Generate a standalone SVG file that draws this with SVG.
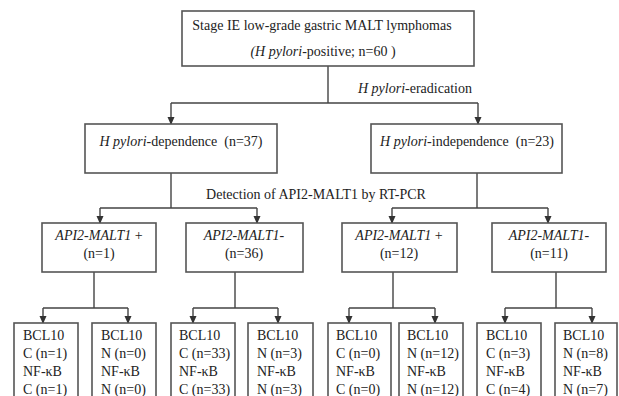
<svg xmlns="http://www.w3.org/2000/svg" width="619" height="396" viewBox="0 0 619 396" font-family="'Liberation Serif','Times New Roman',serif">
<defs>
<marker id="ah" viewBox="0 0 8 8" refX="7" refY="4" markerWidth="8" markerHeight="8" markerUnits="userSpaceOnUse" orient="auto">
<path d="M0,0.5 L8,4 L0,7.5 Z" fill="#333"/>
</marker>
<style>
.box{fill:#fff;stroke:#555;stroke-width:1.6}
.ln{fill:none;stroke:#444;stroke-width:1.4}
.ar{fill:none;stroke:#444;stroke-width:1.4;marker-end:url(#ah)}
text{font-family:"Liberation Serif","Times New Roman",serif;font-size:14px;fill:#222}
.c{text-anchor:middle}
.i{font-style:italic}
</style>
</defs>
<rect width="619" height="396" fill="#fff"/>
<g id="connectors">
<path class="ln" d="M328,66 V103 M171,103 H478"/>
<path class="ar" d="M171,103 V124"/>
<path class="ar" d="M478,103 V124"/>
<path class="ln" d="M171,173 V208 M100,208 H257"/>
<path class="ar" d="M100,208 V223"/>
<path class="ar" d="M257,208 V223"/>
<path class="ln" d="M477,173 V208 M392,208 H548"/>
<path class="ar" d="M392,208 V223"/>
<path class="ar" d="M548,208 V223"/>
<path class="ln" d="M94,272 V308 M43,308 H128"/>
<path class="ar" d="M43,308 V323"/>
<path class="ar" d="M128,308 V323"/>
<path class="ln" d="M235,272 V308 M193,308 H278"/>
<path class="ar" d="M193,308 V323"/>
<path class="ar" d="M278,308 V323"/>
<path class="ln" d="M393,272 V308 M349,308 H435"/>
<path class="ar" d="M349,308 V323"/>
<path class="ar" d="M435,308 V323"/>
<path class="ln" d="M556,272 V308 M505,308 H592"/>
<path class="ar" d="M505,308 V323"/>
<path class="ar" d="M592,308 V323"/>
</g>
<text x="358" y="93"><tspan class="i">H pylori</tspan>-eradication</text>
<text x="316" y="199" class="c">Detection of API2-MALT1 by RT-PCR</text>
<g id="top">
<rect class="box" x="182" y="11" width="292" height="55"/>
<text x="322" y="30" class="c">Stage IE low-grade gastric MALT lymphomas</text>
<text x="323" y="56" class="c"><tspan class="i">(H pylori</tspan>-positive; n=60 )</text>
</g>
<g id="hp-dep">
<rect class="box" x="85" y="124" width="192" height="49"/>
<text x="181" y="146" class="c"><tspan class="i">H pylori</tspan>-dependence &#160;(n=37)</text>
</g>
<g id="hp-indep">
<rect class="box" x="371" y="124" width="191" height="49"/>
<text x="467" y="146" class="c"><tspan class="i">H pylori</tspan>-independence &#160;(n=23)</text>
</g>
<g id="a1">
<rect class="box" x="42" y="223" width="114" height="49"/>
<text x="99" y="240" class="c"><tspan class="i">API2-MALT1</tspan> +</text>
<text x="99" y="258" class="c">(n=1)</text>
</g>
<g id="a2">
<rect class="box" x="186" y="223" width="117" height="49"/>
<text x="244" y="240" class="c"><tspan class="i">API2-MALT1-</tspan></text>
<text x="244" y="258" class="c">(n=36)</text>
</g>
<g id="a3">
<rect class="box" x="342" y="223" width="115" height="49"/>
<text x="399" y="240" class="c"><tspan class="i">API2-MALT1</tspan> +</text>
<text x="399" y="258" class="c">(n=12)</text>
</g>
<g id="a4">
<rect class="box" x="492" y="223" width="114" height="49"/>
<text x="549" y="240" class="c"><tspan class="i">API2-MALT1-</tspan></text>
<text x="549" y="258" class="c">(n=11)</text>
</g>
<g id="b1"><rect class="box" x="14" y="323" width="64" height="80"/>
<text x="23" y="340">BCL10</text><text x="23" y="358">C (n=1)</text><text x="23" y="376">NF-κB</text><text x="23" y="394">C (n=1)</text></g>
<g id="b2"><rect class="box" x="92" y="323" width="64" height="80"/>
<text x="101" y="340">BCL10</text><text x="101" y="358">N (n=0)</text><text x="101" y="376">NF-κB</text><text x="101" y="394">N (n=0)</text></g>
<g id="b3"><rect class="box" x="171" y="323" width="64" height="80"/>
<text x="179" y="340">BCL10</text><text x="179" y="358">C (n=33)</text><text x="179" y="376">NF-κB</text><text x="179" y="394">C (n=33)</text></g>
<g id="b4"><rect class="box" x="248" y="323" width="65" height="80"/>
<text x="257" y="340">BCL10</text><text x="257" y="358">N (n=3)</text><text x="257" y="376">NF-κB</text><text x="257" y="394">N (n=3)</text></g>
<g id="b5"><rect class="box" x="328" y="323" width="63" height="80"/>
<text x="336" y="340">BCL10</text><text x="336" y="358">C (n=0)</text><text x="336" y="376">NF-κB</text><text x="336" y="394">C (n=0)</text></g>
<g id="b6"><rect class="box" x="399" y="323" width="64" height="80"/>
<text x="407" y="340">BCL10</text><text x="407" y="358">N (n=12)</text><text x="407" y="376">NF-κB</text><text x="407" y="394">N (n=12)</text></g>
<g id="b7"><rect class="box" x="477" y="323" width="64" height="80"/>
<text x="486" y="340">BCL10</text><text x="486" y="358">C (n=3)</text><text x="486" y="376">NF-κB</text><text x="486" y="394">C (n=4)</text></g>
<g id="b8"><rect class="box" x="555" y="323" width="62" height="80"/>
<text x="563" y="340">BCL10</text><text x="563" y="358">N (n=8)</text><text x="563" y="376">NF-κB</text><text x="563" y="394">N (n=7)</text></g>
</svg>
